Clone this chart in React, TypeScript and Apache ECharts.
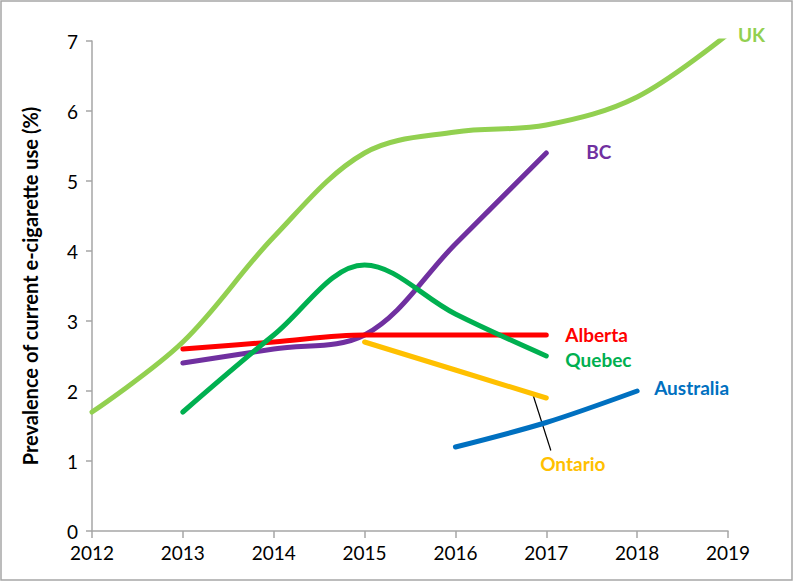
import React, { useEffect, useRef } from "react";
import * as echarts from "echarts";

const years = [2012, 2013, 2014, 2015, 2016, 2017, 2018, 2019];
const ukValues = [1.7, 2.7, 4.2, 5.4, 5.7, 5.8, 6.2, 7.1];
const bcYears = [2013, 2014, 2015, 2016, 2017];
const bcValues = [2.4, 2.6, 2.8, 4.1, 5.4];
const albertaYears = [2013, 2014, 2015, 2016, 2017];
const albertaValues = [2.6, 2.7, 2.8, 2.8, 2.8];
const quebecYears = [2013, 2014, 2015, 2016, 2017];
const quebecValues = [1.7, 2.8, 3.8, 3.1, 2.5];
const ontarioYears = [2015, 2016, 2017];
const ontarioValues = [2.7, 2.3, 1.9];
const australiaYears = [2016, 2017, 2018];
const australiaValues = [1.2, 1.55, 2.0];
const yTicks = [0, 1, 2, 3, 4, 5, 6, 7];

const FONT = "Lato, 'Noto Sans', sans-serif";

function pairs(xs: number[], ys: number[]) {
  return xs.map((x, i) => [x, ys[i]]);
}

export default function App() {
  const ref = useRef<HTMLDivElement>(null);
  useEffect(() => {
    if (!ref.current) return;
    const chart = echarts.init(ref.current, undefined, { renderer: "svg" });
    const mk = (name: string, color: string, data: number[][], off: [number, number], smooth = 0.35) => ({
      name,
      type: "line",
      data,
      smooth,
      symbol: "none",
      lineStyle: { color, width: 5, cap: "round" },
      itemStyle: { color },
      endLabel: off[0] < -900 ? { show: false } : {
        show: true,
        formatter: name,
        color,
        fontFamily: FONT,
        fontWeight: "bold",
        fontSize: 19,
        offset: off,
        distance: 0,
      },
    });
    chart.setOption({
      animation: false,
      grid: { left: 92, right: 66, top: 41, bottom: 51 },
      xAxis: {
        type: "value",
        min: 2012,
        max: 2019,
        interval: 1,
        axisLine: { show: true, lineStyle: { color: "#A6A6A6", width: 1.5 } },
        axisTick: { show: true, length: 7, lineStyle: { color: "#A6A6A6", width: 1.5 } },
        axisLabel: { color: "#000", fontSize: 19, fontFamily: FONT, margin: 12, formatter: (v: number) => String(v) },
        splitLine: { show: false },
      },
      yAxis: {
        type: "value",
        min: yTicks[0],
        max: yTicks[yTicks.length - 1],
        interval: 1,
        name: "Prevalence of current e-cigarette use (%)",
        nameLocation: "middle",
        nameGap: 52,
        nameTextStyle: { color: "#000", fontSize: 20, fontWeight: "bold", fontFamily: FONT },
        axisLine: { show: true, lineStyle: { color: "#A6A6A6", width: 1.5 } },
        axisTick: { show: true, length: 6, lineStyle: { color: "#A6A6A6", width: 1.5 } },
        axisLabel: { color: "#000", fontSize: 19, fontFamily: FONT, margin: 14 },
        splitLine: { show: false },
      },
      series: [
        mk("UK", "#92D050", pairs(years, ukValues), [10, 0]),
        mk("BC", "#7030A0", pairs(bcYears, bcValues), [40, -2]),
        mk("Alberta", "#FF0000", pairs(albertaYears, albertaValues), [19, -1]),
        mk("Quebec", "#00B050", pairs(quebecYears, quebecValues), [19, 3]),
        mk("Ontario", "#FFC000", pairs(ontarioYears, ontarioValues), [-999, 0], 0),
        mk("Australia", "#0070C0", pairs(australiaYears, australiaValues), [17, -4], 0.3),
      ],
    });
    const a = chart.convertToPixel({ gridIndex: 0 }, [2016.85, 1.96]) as number[];
    const b = chart.convertToPixel({ gridIndex: 0 }, [2017.05, 1.15]) as number[];
    chart.setOption({
      graphic: [
        {
          type: "rect",
          shape: { x: 1, y: 1, width: 791, height: 579 },
          style: { fill: "none", stroke: "#A6A6A6", lineWidth: 1.5 },
          silent: true,
        },
        {
          type: "line",
          shape: { x1: a[0], y1: a[1], x2: b[0], y2: b[1] },
          style: { stroke: "#000", lineWidth: 1.2 },
        },
        {
          type: "text",
          x: b[0] + 22,
          y: b[1] + 13,
          style: {
            text: "Ontario",
            fill: "#FFC000",
            font: `bold 19px ${FONT}`,
            align: "center",
            verticalAlign: "middle",
          },
        },
      ],
    });
    return () => chart.dispose();
  }, []);
  return <div ref={ref} style={{ position: "fixed", left: 0, top: 0, width: 794, height: 582, background: "#fff" }} />;
}
